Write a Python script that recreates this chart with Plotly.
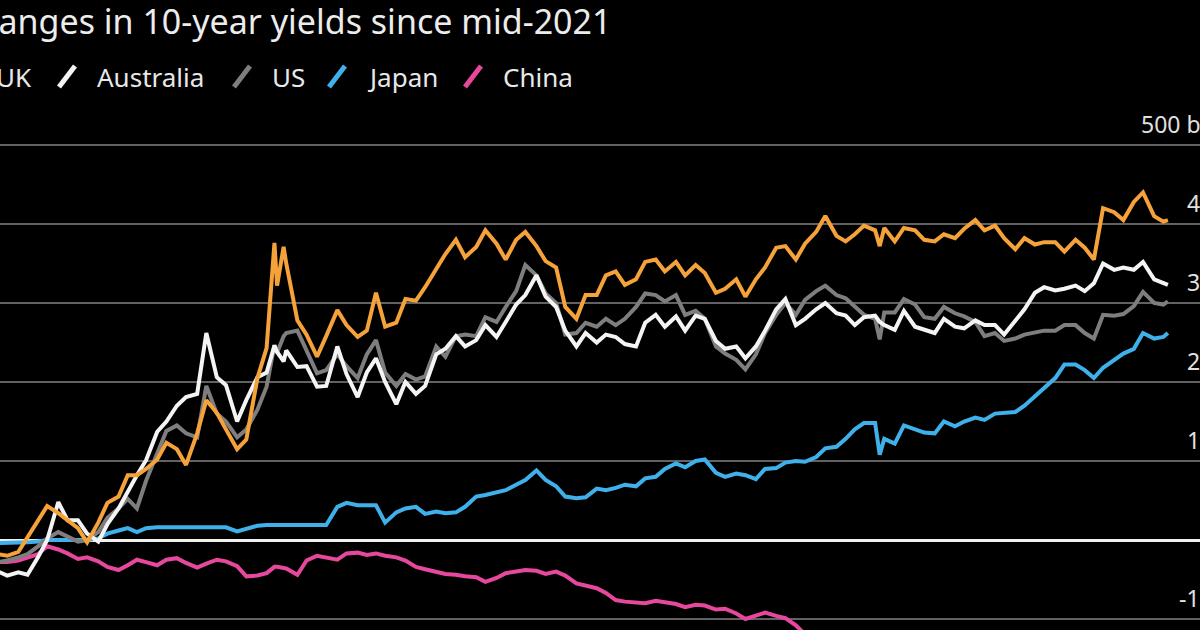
import pandas as pd
import plotly.graph_objects as go

# Semi-monthly observation dates (1st and 15th) plus the last observation
base_dates = list(pd.date_range("2021-08-01", periods=118, freq="SMS").strftime("%Y-%m-%d")) + ["2026-06-22"]
# A few extra observations at sharp moves (gilt crisis, April 2025 sell-off)
extra_dates = ["2022-09-27", "2022-10-11", "2025-04-08"]

series_names = ["UK", "Australia", "US", "Japan", "China"]

uk = [-18, -20, -15, 3, 25, 43, 34, 25, 15, -3,
      22, 47, 55, 82, 82, 90, 102, 123, 115, 95,
      135, 177, 161, 140, 115, 127, 205, 243, 322, 350,
      278, 260, 232, 258, 291, 272, 257, 265, 313, 270,
      275, 305, 303, 320, 342, 362, 380, 358, 371, 392,
      375, 355, 380, 390, 372, 353, 345, 295, 280, 310,
      310, 335, 340, 323, 330, 352, 355, 340, 352, 335,
      348, 338, 313, 318, 330, 308, 330, 345, 370, 372,
      355, 375, 390, 410, 385, 378, 387, 398, 392, 395,
      378, 395, 392, 380, 378, 387, 382, 394, 405, 392,
      398, 382, 368, 382, 374, 377, 377, 365, 380, 370,
      355, 420, 415, 405, 428, 440, 410, 403, 405]
uk_extra = [376, 371, 372]

australia = [-40, -45, -41, -44, -22, 0, 48, 25, 25, 8,
             -2, 20, 40, 62, 82, 101, 137, 150, 170, 181,
             185, 262, 206, 196, 150, 177, 206, 212, 238, 240,
             219, 220, 194, 195, 245, 210, 181, 212, 230, 200,
             172, 200, 185, 195, 235, 242, 258, 245, 253, 272,
             257, 276, 298, 310, 335, 308, 295, 265, 245, 262,
             250, 260, 257, 248, 245, 275, 285, 270, 283, 265,
             284, 280, 252, 242, 245, 230, 245, 265, 292, 305,
             272, 280, 292, 300, 287, 284, 272, 282, 284, 272,
             266, 290, 270, 266, 262, 280, 270, 268, 278, 272,
             272, 260, 278, 292, 313, 320, 316, 318, 322, 315,
             325, 350, 342, 345, 342, 352, 330, 326, 323]
australia_extra = [246, 226, 276]

us = [-28, -26, -22, -18, -8, 2, 10, 5, -2, 0,
      10, 28, 40, 52, 40, 75, 110, 138, 145, 135,
      130, 195, 160, 150, 130, 140, 165, 194, 237, 262,
      265, 240, 211, 215, 235, 220, 205, 235, 253, 212,
      195, 210, 203, 207, 245, 232, 258, 260, 258, 282,
      276, 295, 315, 348, 335, 312, 300, 260, 262, 275,
      270, 280, 272, 280, 295, 312, 310, 302, 310, 285,
      290, 280, 245, 236, 228, 216, 235, 262, 285, 300,
      285, 304, 315, 322, 310, 306, 295, 285, 280, 288,
      288, 305, 298, 282, 280, 295, 287, 283, 276, 258,
      262, 252, 255, 260, 262, 265, 265, 272, 272, 262,
      255, 285, 284, 286, 296, 314, 300, 298, 302]
us_extra = [247, 258, 254]

japan = [-4, -4, -3, -3, -2, 0, 0, 0, 0, 0,
         2, 8, 12, 15, 10, 15, 16, 16, 16, 16,
         17, 16, 16, 16, 11, 14, 18, 19, 19, 19,
         19, 19, 19, 19, 42, 47, 44, 44, 44, 22,
         35, 40, 42, 33, 36, 34, 35, 42, 55, 57,
         60, 63, 70, 76, 88, 76, 68, 55, 53, 54,
         65, 63, 66, 70, 68, 78, 80, 90, 97, 92,
         100, 102, 85, 80, 84, 82, 77, 90, 91, 98,
         100, 99, 105, 116, 118, 128, 140, 148, 148, 128,
         122, 145, 140, 136, 135, 150, 144, 150, 155, 152,
         160, 161, 162, 170, 182, 192, 205, 222, 222, 215,
         205, 218, 228, 236, 242, 262, 255, 257, 262]
japan_extra = [19, 19, 108]

china = [-28, -28, -26, -22, -18, -8, -12, -17, -24, -22,
         -27, -34, -38, -32, -25, -28, -32, -25, -23, -29,
         -35, -30, -25, -27, -33, -46, -45, -42, -34, -36,
         -44, -26, -20, -22, -25, -17, -16, -19, -17, -20,
         -22, -26, -34, -37, -41, -43, -44, -46, -47, -53,
         -48, -42, -40, -38, -39, -43, -40, -45, -55, -58,
         -61, -67, -76, -78, -79, -80, -77, -79, -81, -85,
         -82, -83, -88, -87, -93, -100, -96, -92, -96, -99,
         -108, -120, -135, -145, -150, -148, -135, -125, -130, -140,
         -142, -145, -145, -148, -150, -148, -145, -135, -130, -128,
         -132, -130, -135, -133, -138, -140, -142, -138, -135, -138,
         -137, -135, -138, -140, -137, -138, -140, -138, -138]
china_extra = [-34, -36, -136]

tick_values = [500, 400, 300, 200, 100, 0, -100]
tick_labels = ["500 bps", "400", "300", "200", "100", "0", "-100"]

title_text = "Changes in 10-year yields since mid-2021"

colors = {"UK": "#f5a23a", "Australia": "#f4f4f4", "US": "#7e7e7e",
          "Japan": "#3fb0ea", "China": "#e5489d"}

# Merge the regular and extra observations into one date-sorted table
df = pd.DataFrame({"date": base_dates + extra_dates,
                   "UK": uk + uk_extra,
                   "Australia": australia + australia_extra,
                   "US": us + us_extra,
                   "Japan": japan + japan_extra,
                   "China": china + china_extra})
df["date"] = pd.to_datetime(df["date"])
df = df.sort_values("date").reset_index(drop=True)

FONT = "Noto Sans"
W, H = 1200, 630
TOP = 110

fig = go.Figure()
for name in ["China", "Japan", "US", "Australia", "UK"]:
    fig.add_trace(go.Scatter(x=df["date"], y=df[name], mode="lines", name=name,
                             line=dict(color=colors[name], width=4),
                             showlegend=False, hoverinfo="skip"))

fig.update_layout(
    width=W, height=H,
    paper_bgcolor="#000000", plot_bgcolor="#000000",
    margin=dict(l=0, r=0, t=TOP, b=0, pad=0),
    font=dict(family=FONT, color="#e8e8e8"),
    showlegend=False,
)
fig.update_xaxes(type="date", range=["2021-08-04", "2026-08-10"], showgrid=False,
                 showticklabels=False, zeroline=False, showline=False, ticks="")
fig.update_yaxes(range=[-113.92, 544.3], tickvals=tick_values, showticklabels=False,
                 showgrid=True, gridcolor="#626262", gridwidth=1.5,
                 zeroline=True, zerolinecolor="#f0f0f0", zerolinewidth=2.5,
                 showline=False, ticks="")

annotations = []
# Title (left part is cut off by the frame, as in the reference)
annotations.append(dict(text=title_text, xref="paper", yref="paper", x=613 / W, y=1,
                        xanchor="right", yanchor="middle", yshift=TOP - 21, showarrow=False,
                        font=dict(size=34, color="#ececec", family=FONT)))

# Legend: slanted swatches + labels
legend_x = {"UK": -42, "Australia": 59, "US": 234, "Japan": 329, "China": 465}
shapes = []
for name in series_names:
    x0 = legend_x[name]
    shapes.append(dict(type="line", xref="paper", yref="paper",
                       x0=x0 / W, x1=(x0 + 16) / W,
                       y0=(H - 87) / (H - TOP), y1=(H - 66) / (H - TOP),
                       line=dict(color=colors[name], width=5)))
    annotations.append(dict(text=name, xref="paper", yref="paper", x=(x0 + 36) / W, y=1,
                            xanchor="left", yanchor="middle", yshift=TOP - 77, showarrow=False,
                            font=dict(size=26, color="#e8e8e8", family=FONT)))

# Right-hand axis labels sitting above their grid lines
for v, lab in zip(tick_values, tick_labels):
    if v == 0:
        continue
    annotations.append(dict(text=lab, xref="paper", yref="y", x=1228 / W, y=v,
                            xanchor="right", yanchor="middle", yshift=21, showarrow=False,
                            font=dict(size=23, color="#e0e0e0", family=FONT)))

fig.update_layout(annotations=annotations, shapes=shapes)
fig.write_html("out.html")
